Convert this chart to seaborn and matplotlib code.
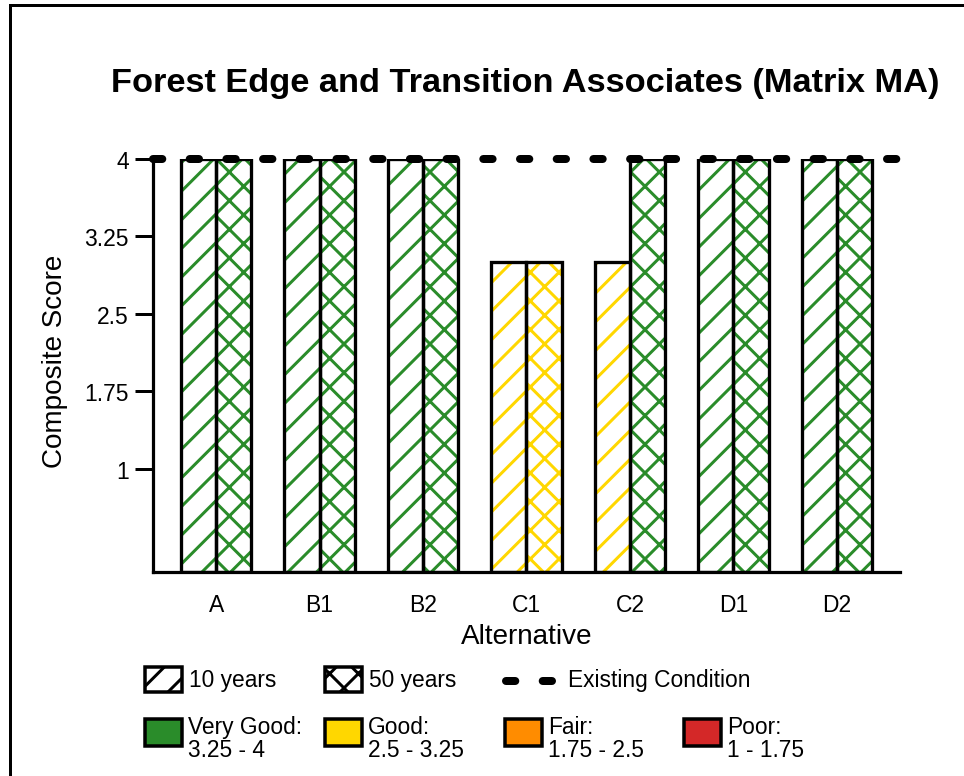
import matplotlib
matplotlib.use("Agg")
import matplotlib.pyplot as plt
from matplotlib.patches import Rectangle
from matplotlib.lines import Line2D
import numpy as np
import pandas as pd
import seaborn as sns

# ---------------- data ----------------
title = "Forest Edge and Transition Associates (Matrix MA)"
alternatives = ["A", "B1", "B2", "C1", "C2", "D1", "D2"]
periods = ["10 years", "50 years"]
score_10yr = [4, 4, 4, 3, 3, 4, 4]
score_50yr = [4, 4, 4, 3, 4, 4, 4]
existing_condition = 4.0
existing_label = "Existing Condition"
y_ticks = [1, 1.75, 2.5, 3.25, 4]
y_tick_labels = ["1", "1.75", "2.5", "3.25", "4"]
rating_names = ["Very Good:\n3.25 - 4", "Good:\n2.5 - 3.25", "Fair:\n1.75 - 2.5", "Poor:\n1 - 1.75"]
rating_lower = [3.25, 2.5, 1.75, 1.0]
rating_colors = ["#2A8C2A", "#FFD700", "#FF8C00", "#D42828"]
period_hatches = ["//", "xx"]

# ---------------- setup ----------------
DPI = 172
W, H = 964, 777
PX = 72.0 / DPI  # points per pixel

sns.set_theme(style="white")
plt.rcParams["font.family"] = ["Liberation Sans", "DejaVu Sans"]
plt.rcParams["hatch.linewidth"] = 3.0 * PX
plt.rcParams["lines.scale_dashes"] = False
plt.rcParams["text.color"] = "black"
plt.rcParams["axes.labelcolor"] = "black"
plt.rcParams["xtick.color"] = "black"
plt.rcParams["ytick.color"] = "black"

df = pd.DataFrame({
    "Alternative": alternatives * 2,
    "Period": [periods[0]] * len(alternatives) + [periods[1]] * len(alternatives),
    "Score": score_10yr + score_50yr,
})


def rating_color(v):
    for lo, c in zip(rating_lower, rating_colors):
        if v >= lo:
            return c
    return rating_colors[-1]


def fx(x):
    return x / W


def fy(y):
    return 1 - y / H


fig = plt.figure(figsize=(W / DPI, H / DPI), dpi=DPI)
fig.patch.set_facecolor("white")
ax = fig.add_axes([fx(153), fy(573), (900 - 153) / W, (573 - 160) / H])
ax.set_facecolor("white")

# hatched fill layer
sns.barplot(data=df, x="Alternative", y="Score", hue="Period", order=alternatives,
            hue_order=periods, width=0.68, palette=["white", "white"], saturation=1,
            errorbar=None, legend=False, ax=ax, zorder=2)
for cont, hatch in zip(ax.containers, period_hatches):
    for bar in cont:
        bar.set_facecolor("white")
        bar.set_hatch(hatch)
        bar.set_edgecolor(rating_color(bar.get_height()))
        bar.set_linewidth(0)

# black outline layer
sns.barplot(data=df, x="Alternative", y="Score", hue="Period", order=alternatives,
            hue_order=periods, width=0.68, palette=["black", "black"], fill=False,
            linewidth=3.3 * PX, errorbar=None, legend=False, ax=ax, zorder=3)

# existing condition line
ax.axhline(existing_condition, color="black", lw=8 * PX, dashes=(9.3 * PX, 27.4 * PX),
           dash_capstyle="round", clip_on=False, zorder=6)

ax.set_xlim(-0.61, 6.61)
ax.set_ylim(0, 4)
ax.set_yticks(y_ticks, labels=y_tick_labels)
for s in ["top", "right"]:
    ax.spines[s].set_visible(False)
for s in ["left", "bottom"]:
    ax.spines[s].set_color("black")
    ax.spines[s].set_linewidth(3.2 * PX)
    ax.spines[s].set_zorder(4)
ax.tick_params(axis="y", left=True, direction="out", length=18 * PX, width=3 * PX,
               pad=2.5, labelsize=9.6)
ax.tick_params(axis="x", bottom=False, length=0, pad=9, labelsize=9.6)
ax.grid(False)

ax.set_xlabel("Alternative", fontsize=11.7)
ax.xaxis.set_label_coords(0.5, -0.1235)
ax.set_ylabel("Composite Score", fontsize=11.7)
ax.yaxis.set_label_coords(-0.114, 0.513)

# title
fig.text(fx(525), fy(92), title, ha="center", va="baseline", fontsize=14.4, fontweight="bold")

# outer frame
fig.add_artist(Rectangle((fx(10), -0.2), 1.5, fy(6) + 0.2, fill=False, edgecolor="black",
                         lw=3 * PX, transform=fig.transFigure, clip_on=False))

# ---------------- legend ----------------
leg_fs = 9.5
# row 1: periods
for xp, hatch, label in zip([145, 325], period_hatches, periods):
    fig.add_artist(Rectangle((fx(xp), fy(693)), 37 / W, 25 / H, facecolor="white",
                             edgecolor="black", hatch=hatch, lw=3.5 * PX,
                             transform=fig.transFigure))
    fig.text(fx(xp + 44), fy(681), label, ha="left", va="center", fontsize=leg_fs)
fig.add_artist(Line2D([fx(506), fx(553)], [fy(682), fy(682)], color="black", lw=8 * PX,
                      dashes=(9.3 * PX, 27.4 * PX), dash_capstyle="round",
                      transform=fig.transFigure))
fig.text(fx(568), fy(681), existing_label, ha="left", va="center", fontsize=leg_fs)

# row 2: ratings
for xp, name, col in zip([145, 325, 505, 684], rating_names, rating_colors):
    fig.add_artist(Rectangle((fx(xp), fy(747)), 37 / W, 27 / H, facecolor=col,
                             edgecolor="black", lw=3.5 * PX, transform=fig.transFigure))
    fig.text(fx(xp + 43), fy(739), name, ha="left", va="center", fontsize=leg_fs,
             linespacing=0.95)

fig.savefig("out.png", dpi=DPI, facecolor="white")
